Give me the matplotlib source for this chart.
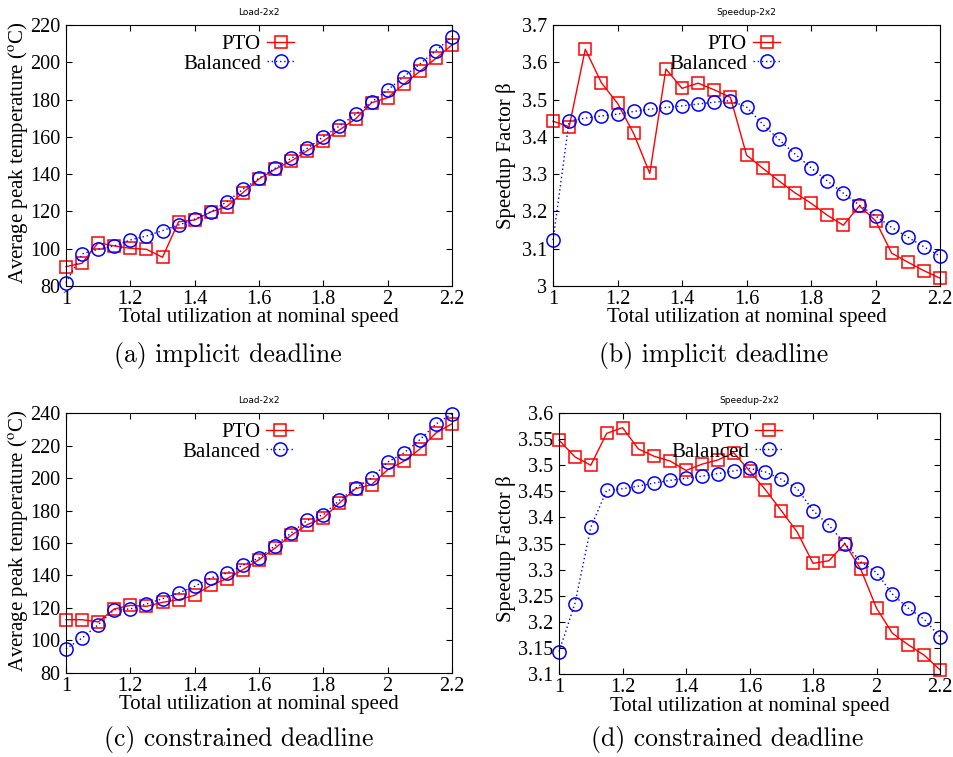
import numpy as np
import matplotlib
matplotlib.use('Agg')
import matplotlib.pyplot as plt
from matplotlib.ticker import FuncFormatter, MultipleLocator

plt.rcParams['font.family'] = ['Liberation Serif', 'DejaVu Serif']
plt.rcParams['mathtext.fontset'] = 'stix'

# x: total utilization at nominal speed
util = [1.00, 1.05, 1.10, 1.15, 1.20, 1.25, 1.30, 1.35, 1.40, 1.45, 1.50, 1.55, 1.60,
        1.65, 1.70, 1.75, 1.80, 1.85, 1.90, 1.95, 2.00, 2.05, 2.10, 2.15, 2.20]

# (a) implicit deadline, temperature
temp_impl_pto = [90.4, 92.2, 103.2, 101.5, 100.2, 99.7, 95.4, 114.5, 115.4, 119.7, 122.6,
                 130.1, 137.4, 142.6, 147.0, 152.6, 157.8, 163.7, 169.6, 178.3, 181.0,
                 188.2, 195.1, 202.1, 209.3]
temp_impl_bal = [81.8, 97.2, 99.7, 101.5, 104.7, 106.8, 109.7, 112.7, 115.9, 119.7, 125.2,
                 131.9, 137.8, 143.1, 148.5, 153.8, 160.1, 165.8, 172.1, 178.7, 185.1,
                 192.3, 199.1, 206.2, 213.7]

# (b) implicit deadline, speedup
spd_impl_pto = [3.442, 3.427, 3.635, 3.545, 3.490, 3.409, 3.302, 3.582, 3.530, 3.544, 3.526,
                3.506, 3.351, 3.316, 3.282, 3.250, 3.222, 3.190, 3.163, 3.215, 3.175,
                3.088, 3.064, 3.041, 3.021]
spd_impl_bal = [3.123, 3.443, 3.450, 3.456, 3.461, 3.468, 3.474, 3.479, 3.483, 3.488, 3.493,
                3.497, 3.480, 3.434, 3.393, 3.354, 3.317, 3.282, 3.249, 3.217, 3.188,
                3.157, 3.131, 3.105, 3.080]

# (c) constrained deadline, temperature
temp_cons_pto = [112.8, 112.8, 111.4, 119.4, 121.6, 121.0, 123.5, 125.1, 127.8, 134.0, 138.0,
                 143.6, 149.7, 156.9, 164.7, 171.3, 175.4, 184.6, 193.4, 195.9, 205.1,
                 210.3, 217.8, 227.7, 233.4]
temp_cons_bal = [94.8, 101.5, 109.7, 119.0, 119.4, 122.5, 125.7, 129.2, 133.3, 138.5, 141.5,
                 146.3, 150.8, 158.4, 166.2, 174.0, 177.4, 186.3, 193.8, 200.0, 209.8,
                 215.4, 223.6, 233.2, 239.6]

# (d) constrained deadline, speedup
spd_cons_pto = [3.548, 3.516, 3.500, 3.561, 3.572, 3.531, 3.517, 3.508, 3.490, 3.502, 3.510,
                3.524, 3.489, 3.453, 3.413, 3.372, 3.312, 3.317, 3.350, 3.301, 3.226,
                3.178, 3.156, 3.136, 3.108]
spd_cons_bal = [3.143, 3.235, 3.381, 3.452, 3.455, 3.460, 3.466, 3.471, 3.475, 3.479, 3.484,
                3.489, 3.494, 3.487, 3.473, 3.455, 3.413, 3.385, 3.350, 3.315, 3.294,
                3.253, 3.226, 3.205, 3.171]

temp_label = 'Average peak temperature ($^{\\rm o}$C)'
spd_label = 'Speedup Factor β'

panels = [
    # rect, pto, bal, title, ylabel, ylim, ystep, ylabel pos, legend x
    ([0.0692, 0.6222, 0.4046, 0.3448], temp_impl_pto, temp_impl_bal, 'Load-2x2', temp_label,
     (80, 220), 20, (-0.124, 0.513), 0.602),
    ([0.5797, 0.6222, 0.4057, 0.3448], spd_impl_pto, spd_impl_bal, 'Speedup-2x2', spd_label,
     (3.0, 3.7), 0.1, (-0.122, 0.50), 0.598),
    ([0.0692, 0.1110, 0.4046, 0.3434], temp_cons_pto, temp_cons_bal, 'Load-2x2', temp_label,
     (80, 240), 20, (-0.124, 0.51), 0.600),
    ([0.5860, 0.1096, 0.3994, 0.3448], spd_cons_pto, spd_cons_bal, 'Speedup-2x2', spd_label,
     (3.1, 3.6), 0.05, (-0.139, 0.48), 0.597),
]

captions = [(0.239, 0.531, '(a) implicit deadline'),
            (0.748, 0.531, '(b) implicit deadline'),
            (0.250, 0.0225, '(c) constrained deadline'),
            (0.762, 0.0225, '(d) constrained deadline')]

fmt = FuncFormatter(lambda v, p: '%g' % round(v, 4))

fig = plt.figure(figsize=(9.54, 7.57), dpi=100)

for rect, pto, bal, title, ylabel, ylim, ystep, ylpos, legx in panels:
    ax = fig.add_axes(rect)
    ax.plot(util, pto, color='#ff0000', lw=1.0, marker='s', ms=9, mfc='none',
            mec='#ff0000', mew=1.1, label='PTO', clip_on=False)
    ax.plot(util, bal, color='#0000ff', lw=1.0, ls=(0, (1, 2)), marker='o', ms=9.5,
            mfc='none', mec='#0000ff', mew=1.1, label='Balanced', clip_on=False)
    ax.set_xlim(1, 2.2)
    ax.set_ylim(*ylim)
    ax.xaxis.set_major_locator(MultipleLocator(0.2))
    ax.yaxis.set_major_locator(MultipleLocator(ystep))
    ax.xaxis.set_major_formatter(fmt)
    ax.yaxis.set_major_formatter(fmt)
    ax.tick_params(direction='in', top=True, right=True, labelsize=14.5, length=4)
    ax.tick_params(axis='x', pad=3)
    ax.tick_params(axis='y', pad=4)
    ax.set_xlabel('Total utilization at nominal speed', fontsize=15, va='center')
    ax.xaxis.set_label_coords(0.5, -32 / 261)
    ax.set_ylabel(ylabel, fontsize=15, va='center', ha='center')
    ax.yaxis.set_label_coords(*ylpos)
    ax.set_title(title, fontsize=6.5, family='DejaVu Sans', pad=7)
    ax.legend(loc='upper right', bbox_to_anchor=(legx, 0.98), frameon=False,
              markerfirst=False, fontsize=15, handlelength=1.3, handletextpad=0.3,
              labelspacing=0.0, borderaxespad=0.0, borderpad=0.2)

for x, y, txt in captions:
    fig.text(x, y, txt, ha='center', va='center', fontsize=18.5, family='cmr10')

fig.savefig('out.png', dpi=100)
